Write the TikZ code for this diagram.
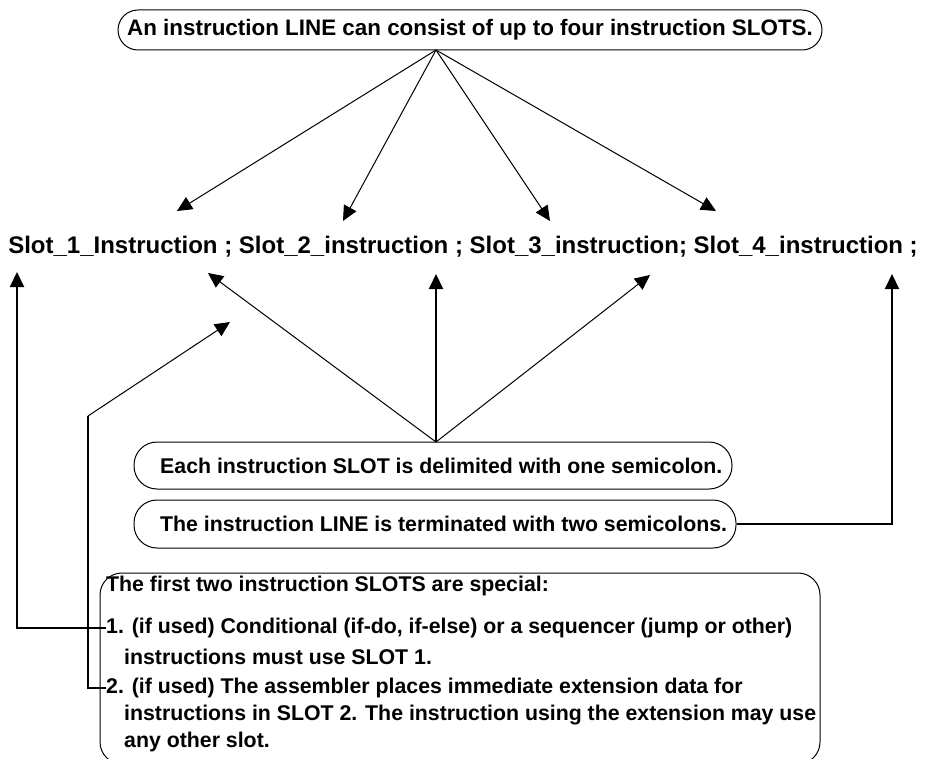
\documentclass[tikz,border=0pt]{standalone}
\usepackage{fontspec}
\setmainfont{Liberation Sans}
\usetikzlibrary{arrows.meta}
\begin{document}
\begin{tikzpicture}[x=1pt,y=-1pt,
  txt/.style={font=\bfseries\fontsize{21.3}{25}\selectfont, inner sep=0pt},
  pill/.style={draw, line width=1pt, inner sep=0pt},
  wire/.style={line width=1pt},
  bus/.style={line width=2pt},
  tip/.style={-{Triangle[length=15pt,width=14pt]}}
]
\useasboundingbox (0,0) rectangle (925,759);

% headline box
\node[pill, rounded corners=20pt, minimum width=704pt, minimum height=40pt,
      font=\bfseries\fontsize{22.4}{26}\selectfont] (head) at (470,30)
  {An instruction LINE can consist of up to four instruction SLOTS.};

% the instruction line itself
\node[font=\bfseries\fontsize{24}{28}\selectfont, inner sep=0pt] (slots) at (463,247)
  {Slot\_1\_Instruction ; Slot\_2\_instruction ; Slot\_3\_instruction; Slot\_4\_instruction ;};

% fan from the headline to the four slots
\coordinate (fanT) at (436,50);
\coordinate (t1) at (177,211);
\coordinate (t2) at (343,221);
\coordinate (t3) at (550,221);
\coordinate (t4) at (716,211);
\foreach \t in {t1,t2,t3,t4} \draw[wire,tip] (fanT) -- (\t);

% delimiter box
\node[pill, rounded corners=23pt, minimum width=598pt, minimum height=47pt] (delim) at (433,465.5) {};
\node[txt, anchor=west] (delimtxt) at (160,465.5) {Each instruction SLOT is delimited with one semicolon.};

% terminator box
\node[pill, rounded corners=23pt, minimum width=602pt, minimum height=48pt] (term) at (435,524) {};
\node[txt, anchor=west] (termtxt) at (160,524) {The instruction LINE is terminated with two semicolons.};

% fan from the delimiter box to the semicolons
\coordinate (fanB) at (436,442);
\coordinate (u1) at (208,273);
\coordinate (u2) at (436,274);
\coordinate (u3) at (650,275);
\draw[wire,tip] (fanB) -- (u1);
\draw[bus,tip] (fanB) -- (u2);
\draw[wire,tip] (fanB) -- (u3);

% terminator to the final semicolon
\coordinate (uR) at (892,274);
\draw[bus,tip] (term.east) -| (uR);

% special slots box
\node[pill, rounded corners=22pt, minimum width=720pt, minimum height=191pt] (rules) at (460,668.5) {};
\node[txt, anchor=west] (r0) at (106,586) {The first two instruction SLOTS are special:};
\node[txt, anchor=west] (r1) at (106,628) {1. (if used) Conditional (if-do, if-else) or a sequencer (jump or other)};
\node[txt, anchor=west] (r1b) at (124,657) {instructions must use SLOT 1.};
\node[txt, anchor=west] (r2) at (106,688) {2. (if used) The assembler places immediate extension data for};
\node[txt, anchor=west] (r2b) at (124,715) {instructions in SLOT 2. The instruction using the extension may use};
\node[txt, anchor=west] (r2c) at (124,742) {any other slot.};

% rule 1 points at slot 1
\coordinate (uL) at (17,272);
\draw[bus,tip] (r1.west) -| (uL);

% rule 2 points at slot 2
\coordinate (bend) at (88,416);
\coordinate (u6) at (230,322);
\draw[bus] (r2.west) -| (bend);
\draw[wire,tip] (bend) -- (u6);
\end{tikzpicture}
\end{document}
